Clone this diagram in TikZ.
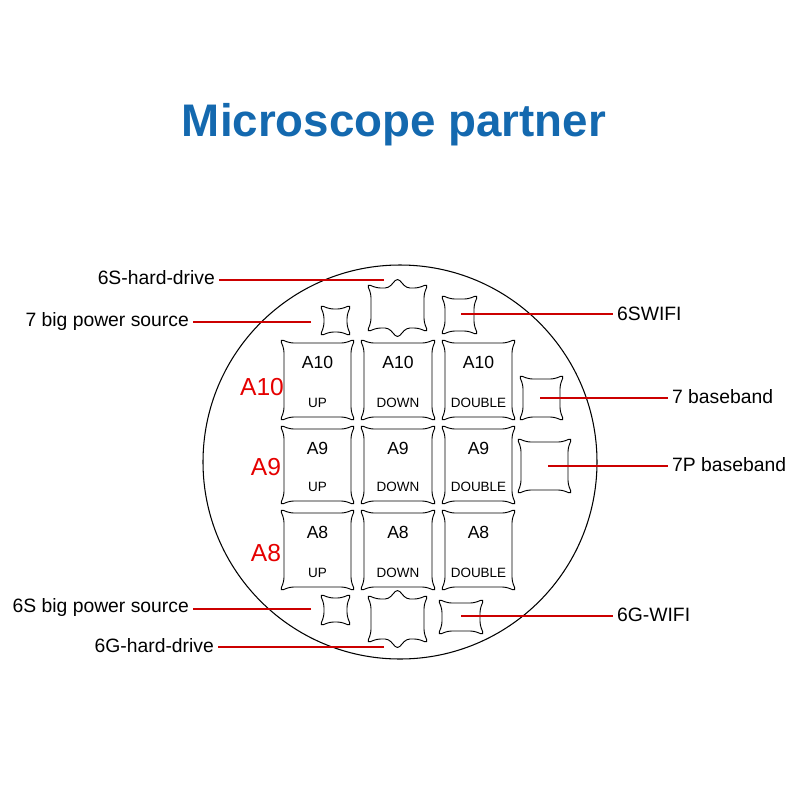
\documentclass[tikz,border=0pt]{standalone}
\usepackage{fontspec}
\setmainfont{Liberation Sans}
\begin{document}
\begin{tikzpicture}[x=0.03cm,y=-0.03cm,
  pad/.style={draw=black,line width=0.8pt,rounded corners=3pt},
  lead/.style={draw=red!80!black,line width=0.9pt},
  lab/.style={font=\fontsize{16.5}{18}\selectfont},
  big/.style={font=\fontsize{15}{17}\selectfont},
  sm/.style={font=\fontsize{11.5}{13}\selectfont},
  rl/.style={text=red!90!black,font=\fontsize{21}{23}\selectfont}]
\useasboundingbox (0,0) rectangle (800,800);
\definecolor{tblue}{RGB}{20,105,175}
\node[text=tblue,font=\bfseries\fontsize{39}{42}\selectfont] (title) at (394,125) {Microscope partner};
\draw[line width=0.9pt] (400,462) circle[radius=197];
\newcommand{\padshape}[4]{%
 \draw[pad] ({#1+6},#2)--({#3-6},#2)--({#3+4},{#2-4})--(#3,{#2+6})--(#3,{#4-6})--({#3+4},{#4+4})--({#3-6},#4)--({#1+6},#4)--({#1-4},{#4+4})--(#1,{#4-6})--(#1,{#2+6})--({#1-4},{#2-4})--cycle;}
\newcommand{\hdshape}[4]{%
 \draw[pad] ({#1+6},{#2+6})--({(#1+#3)/2-9},{#2+6})--({(#1+#3)/2},{#2-4})--({(#1+#3)/2+9},{#2+6})--({#3-6},{#2+6})--({#3+4},{#2+2})--(#3,{#2+12})--(#3,{#4-12})--({#3+4},{#4-2})--({#3-6},{#4-6})--({(#1+#3)/2+9},{#4-6})--({(#1+#3)/2},{#4+4})--({(#1+#3)/2-9},{#4-6})--({#1+6},{#4-6})--({#1-4},{#4-2})--(#1,{#4-12})--(#1,{#2+12})--({#1-4},{#2+2})--cycle;}
\foreach \r/\ya/\yb/\t in {0/343/417/A10,1/429/501/A9,2/513/587/A8}{
  \foreach \c/\xa/\xb/\s in {0/284/351/UP,1/364/432/DOWN,2/445/512/DOUBLE}{
    \padshape{\xa}{\ya}{\xb}{\yb}
    \node[big] at ({(\xa+\xb)/2},{\ya+19}) {\t};
    \node[sm] at ({(\xa+\xb)/2},{\yb-14}) {\s};
  }}
\node[rl] (l10) at (262,387) {A10};
\node[rl] (l9) at (266,467) {A9};
\node[rl] (l8) at (266,553) {A8};
\padshape{324}{309}{347}{332}
\hdshape{371}{282}{424}{334}
\padshape{445}{299}{474}{331}
\padshape{523}{379}{560}{417}
\padshape{521}{442}{568}{490}
\padshape{324}{598}{347}{622}
\hdshape{371}{593}{424}{645}
\padshape{442}{603}{480}{631}
\coordinate (p1) at (384,280); \coordinate (p2) at (311,322);
\coordinate (p3) at (461,314); \coordinate (p4) at (540,398);
\coordinate (p5) at (548,466); \coordinate (p6) at (311,609);
\coordinate (p7) at (384,647); \coordinate (p8) at (461,616);
\node[lab,anchor=east] (t1) at (219,278) {6S-hard-drive};
\node[lab,anchor=east] (t2) at (193,321) {7 big power source};
\node[lab,anchor=west] (t3) at (613,314) {6SWIFI};
\node[lab,anchor=west] (t4) at (668,397) {7 baseband};
\node[lab,anchor=west] (t5) at (668,465) {7P baseband};
\node[lab,anchor=east] (t6) at (193,607) {6S big power source};
\node[lab,anchor=east] (t7) at (218,646) {6G-hard-drive};
\node[lab,anchor=west] (t8) at (613,615) {6G-WIFI};
\foreach \p/\t in {p1/t1,p2/t2,p6/t6,p7/t7}
  \draw[lead] (\p) -- (\t.east |- \p);
\foreach \p/\t in {p3/t3,p4/t4,p5/t5,p8/t8}
  \draw[lead] (\p) -- (\t.west |- \p);
\end{tikzpicture}
\end{document}
